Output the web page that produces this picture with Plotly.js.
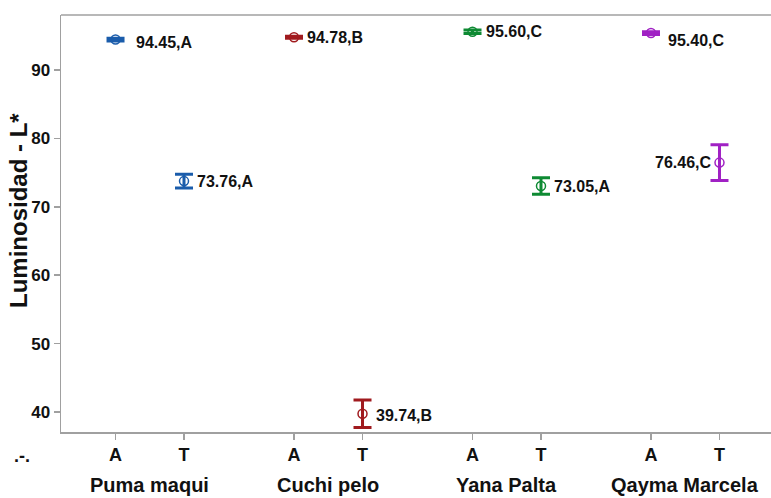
<!DOCTYPE html>
<html>
<head>
<meta charset="utf-8">
<script src="https://cdn.plot.ly/plotly-3.0.1.min.js"></script>
<style>html,body{margin:0;padding:0;background:#fff;}#chart{width:771px;height:498px;}</style>
</head>
<body>
<div id="chart"></div>
<script>
// ---- data ----
const groups = ["Puma maqui", "Cuchi pelo", "Yana Palta", "Qayma Marcela"];
const subLabels = ["A", "T"];
const meansA = [94.45, 94.78, 95.60, 95.40];
const meansT = [73.76, 39.74, 73.05, 76.46];
const errA = [0.2, 0.15, 0.25, 0.2];
const errT = [1.0, 2.0, 1.2, 2.6];
const lettersA = ["A", "B", "C", "C"];
const lettersT = ["A", "B", "A", "C"];

// ---- styles ----
const colors = ["#1A5CAB", "#A01A1E", "#0E8A33", "#A021C4"];
const groupStep = 2.606;
const FONT = "Liberation Sans, Arial, sans-serif";
// label offsets in px [xshift, yshift, anchor]
const offA = [[18, -3, "left"], [11, 0, "left"], [11, 0, "left"], [15, -7, "left"]];
const offT = [[11, 0, "left"], [11, -2, "left"], [11, -1, "left"], [-6, 0, "right"]];

const traces = [];
const annotations = [];
const tickvals = [], ticktext = [];
groups.forEach((g, i) => {
  const xs = [i * groupStep, i * groupStep + 1];
  const ys = [meansA[i], meansT[i]];
  const es = [errA[i], errT[i]];
  traces.push({
    type: "scatter", mode: "markers", x: xs, y: ys,
    marker: {symbol: "circle-open", size: 9, color: colors[i], line: {width: 1.5, color: colors[i]}},
    error_y: {type: "data", array: es, visible: true, color: colors[i], thickness: 3, width: 9},
    showlegend: false, hoverinfo: "skip"
  });
  const labs = [meansA[i].toFixed(2) + "," + lettersA[i], meansT[i].toFixed(2) + "," + lettersT[i]];
  const offs = [offA[i], offT[i]];
  for (let k = 0; k < 2; k++) {
    annotations.push({
      x: xs[k], y: ys[k], xref: "x", yref: "y", text: labs[k], showarrow: false,
      xanchor: offs[k][2], yanchor: "middle", xshift: offs[k][0], yshift: offs[k][1],
      font: {family: FONT, size: 16, color: "#111", weight: "bold"}
    });
    tickvals.push(xs[k]);
    ticktext.push(subLabels[k]);
  }
  annotations.push({
    x: i * groupStep + 0.5, y: 0, xref: "x", yref: "paper", text: g, showarrow: false,
    xanchor: "center", yanchor: "middle", yshift: -53,
    font: {family: FONT, size: 20, color: "#111", weight: "bold"}
  });
});

annotations.push({
  x: 0, y: 0, xref: "paper", yref: "paper", text: ".-.", showarrow: false,
  xanchor: "center", yanchor: "middle", xshift: -39, yshift: -24,
  font: {family: FONT, size: 18, color: "#111", weight: "bold"}
});
annotations.push({
  x: 0, y: 0.53, xref: "paper", yref: "paper", text: "Luminosidad - L*", showarrow: false,
  textangle: -90, xanchor: "center", yanchor: "middle", xshift: -42,
  font: {family: FONT, size: 24, color: "#111", weight: "bold"}
});

const layout = {
  width: 771, height: 498,
  margin: {l: 61, r: 0, t: 15, b: 66, pad: 0},
  paper_bgcolor: "#fff", plot_bgcolor: "#fff",
  xaxis: {
    range: [-0.796, 9.57], tickmode: "array", tickvals: tickvals, ticktext: ticktext,
    showgrid: false, zeroline: false, showline: true, linecolor: "#a0a0a0", linewidth: 1.5,
    ticks: "outside", ticklen: 6, tickcolor: "#a0a0a0", tickwidth: 1.5,
    tickfont: {family: FONT, size: 18, color: "#111", weight: "bold"}, fixedrange: true
  },
  yaxis: {
    range: [37.08, 98.04], tickvals: [40, 50, 60, 70, 80, 90],
    showgrid: false, zeroline: false, showline: true, linecolor: "#a0a0a0", linewidth: 1.5,
    ticks: "outside", ticklen: 6, tickcolor: "#a0a0a0", tickwidth: 1.5,
    tickfont: {family: FONT, size: 17, color: "#111", weight: "bold"}, fixedrange: true
  },
  shapes: [{type: "line", xref: "paper", yref: "paper", x0: 0, x1: 1, y0: 1, y1: 1,
            line: {color: "#a0a0a0", width: 1.5}}],
  annotations: annotations
};

Plotly.newPlot("chart", traces, layout, {displayModeBar: false, staticPlot: true});
</script>
</body>
</html>
